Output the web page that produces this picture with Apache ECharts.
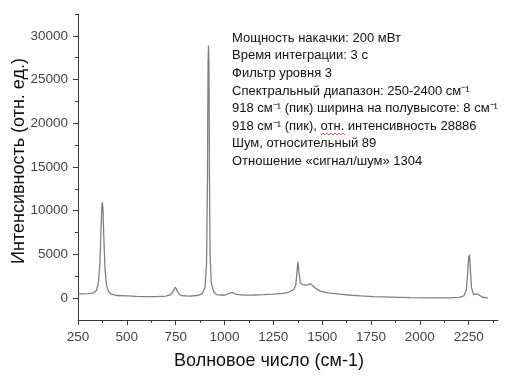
<!DOCTYPE html>
<html><head><meta charset="utf-8">
<script src="https://cdn.jsdelivr.net/npm/echarts@6/dist/echarts.min.js"></script>
<style>html,body{margin:0;padding:0;background:#fff}#c{width:517px;height:381px}</style>
</head><body><div id="c"></div>
<script>
// Raman spectrum
const wavenumbers = [250,300,330,345,355,362,368,372,375,378,382,388,395,405,420,450,500,550,600,650,700,725,740,748,755,765,780,820,860,885,900,908,913,914,916,918,920,922,923,926,932,945,960,1000,1030,1045,1060,1100,1150,1200,1250,1300,1330,1355,1365,1371,1376,1381,1388,1400,1420,1440,1450,1465,1490,1530,1590,1650,1700,1760,1850,1950,2050,2150,2200,2225,2238,2245,2250,2254,2258,2264,2275,2285,2293,2300,2320,2348];
const intensities = [490,520,600,900,1800,4000,8000,10500,10950,10200,7000,3500,1600,800,450,300,250,200,180,170,230,400,900,1250,1000,500,280,230,300,500,1200,4000,14000,20000,27000,28886,27000,20000,14000,5000,1800,700,400,330,600,620,420,350,360,400,450,550,700,1000,1500,3000,4150,3000,1700,1550,1500,1650,1600,1150,800,600,450,330,250,180,120,60,20,30,80,250,900,3000,4700,4950,3500,1200,400,350,500,300,100,20];
const xTickLabels = [250,500,750,1000,1250,1500,1750,2000,2250];
const xMinorTicks = [375,625,875,1125,1375,1625,1875,2125,2375];
const yTickLabels = [0,5000,10000,15000,20000,25000,30000];
const yMinorTicks = [2500,7500,12500,17500,22500,27500,32500];
const infoLines = [
  'Мощность накачки: 200 мВт',
  'Время интеграции: 3 с',
  'Фильтр уровня 3',
  'Спектральный диапазон: 250-2400 см⁻¹',
  '918 см⁻¹ (пик) ширина на полувысоте: 8 см⁻¹',
  '918 см⁻¹ (пик), отн. интенсивность 28886',
  'Шум, относительный 89',
  'Отношение «сигнал/шум» 1304'
];
const xName = 'Волновое число (см-1)';
const yName = 'Интенсивность (отн. ед.)';

const chart = echarts.init(document.getElementById('c'), null, {renderer:'canvas'});
const axisCol = '#3a3a3a';
const lblStyle = {color:'#444', fontFamily:'Liberation Sans', fontSize:13.5, formatter:function(v){return String(v);}};
const X = {min:250, max:2400};
const Y = {min:-2500, max:32500};

// spell-check squiggle under "отн." (decoration)
const squig = [];
for (let i = 0; i <= 12; i++) squig.push([321 + i * 2, 134 + (i % 2 ? -1 : 1)]);

chart.setOption({
  animation:false,
  backgroundColor:'#fff',
  grid:{left:78, right:19, top:14, bottom:61, containLabel:false, outerBoundsMode:'none'},
  xAxis:[{
    type:'value', min:X.min, max:X.max, position:'bottom',
    axisLine:{show:true, onZero:false, lineStyle:{color:axisCol, width:1}},
    axisTick:{show:true, inside:false, length:5, customValues:xTickLabels, lineStyle:{color:axisCol}},
    axisLabel:Object.assign({margin:10, customValues:xTickLabels}, lblStyle),
    splitLine:{show:false},
    name:xName, nameLocation:'middle', nameGap:32, nameMoveOverlap:false,
    nameTextStyle:{color:'#111', fontFamily:'Liberation Sans', fontSize:18, padding:[0,38,0,0]}
  },{
    type:'value', min:X.min, max:X.max, position:'bottom',
    axisLine:{show:false, onZero:false},
    axisTick:{show:true, length:3, customValues:xMinorTicks, lineStyle:{color:axisCol}},
    axisLabel:{show:false}, splitLine:{show:false}
  }],
  yAxis:[{
    type:'value', min:Y.min, max:Y.max, position:'left',
    axisLine:{show:true, onZero:false, lineStyle:{color:axisCol, width:1}},
    axisTick:{show:true, length:5, customValues:yTickLabels, lineStyle:{color:axisCol}},
    axisLabel:Object.assign({margin:10, customValues:yTickLabels}, lblStyle),
    splitLine:{show:false},
    name:yName, nameLocation:'middle', nameGap:50, nameRotate:90, nameMoveOverlap:false,
    nameTextStyle:{color:'#111', fontFamily:'Liberation Sans', fontSize:18, padding:[0,0,0,12]}
  },{
    type:'value', min:Y.min, max:Y.max, position:'left',
    axisLine:{show:false, onZero:false},
    axisTick:{show:true, length:3, customValues:yMinorTicks, lineStyle:{color:axisCol}},
    axisLabel:{show:false}, splitLine:{show:false}
  }],
  series:[{
    type:'line', xAxisIndex:0, yAxisIndex:0, showSymbol:false, smooth:false,
    lineStyle:{color:'#808080', width:1.3},
    data: wavenumbers.map((w,i)=>[w,intensities[i]])
  }],
  graphic:[{
    type:'text', left:232, top:29.5,
    style:{text:infoLines.join('\n'), fill:'#111', font:'13px "Liberation Sans"', lineHeight:17.6}
  },{
    type:'polyline', shape:{points:squig}, style:{stroke:'#e03030', lineWidth:0.8, fill:null}
  }]
});
</script></body></html>
